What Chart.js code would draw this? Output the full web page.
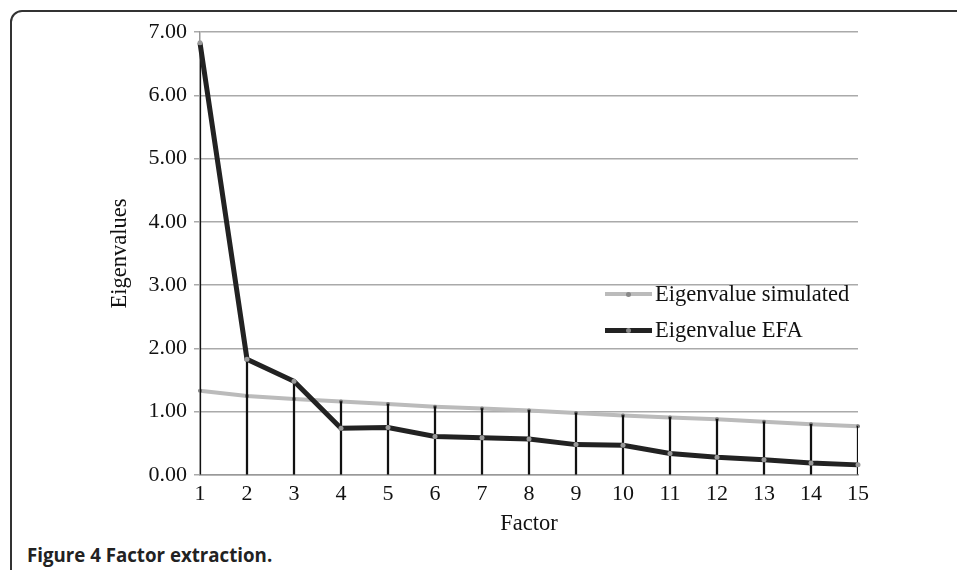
<!DOCTYPE html>
<html>
<head>
<meta charset="utf-8">
<script src="https://cdn.jsdelivr.net/npm/chart.js@4.4.1/dist/chart.umd.min.js"></script>
<style>
  html, body { margin: 0; padding: 0; background: #fff; }
  body { width: 957px; height: 570px; position: relative; overflow: hidden; }
  #frame { position: absolute; left: 10px; top: 10px; width: 1000px; height: 600px;
           border: 2px solid #333; border-radius: 12px; box-sizing: border-box; }
  #wrap { position: absolute; left: 0; top: 0; width: 957px; height: 540px; }
  #caption { position: absolute; left: 27px; top: 542px; font-family: "Open Sans", sans-serif;
             font-weight: bold; font-size: 18.7px; color: #222; }
  .leg { position: absolute; left: 605px; font-family: "Liberation Serif", serif; font-size: 22.5px;
         color: #111; display: flex; align-items: center; }
  .leg .sw { width: 47px; position: relative; margin-right: 3px; }
  .leg .dot { position: absolute; left: 21px; width: 5px; height: 5px; border-radius: 50%; background: #888; }
</style>
</head>
<body>
<div id="frame"></div>
<div id="wrap"><canvas id="screePlot"></canvas></div>
<div class="leg" style="top:281px;">
  <div class="sw" style="height:4px;background:#bbb;"><div class="dot" style="top:-0.5px;"></div></div>
  <span>Eigenvalue simulated</span>
</div>
<div class="leg" style="top:317px;">
  <div class="sw" style="height:5px;background:#222;"><div class="dot" style="top:0px;"></div></div>
  <span>Eigenvalue EFA</span>
</div>
<div id="caption">Figure 4 Factor extraction.</div>
<script>
const factors = ['1', '2', '3', '4', '5', '6', '7', '8', '9', '10', '11', '12', '13', '14', '15'];
const eigenSimulated = [1.33, 1.25, 1.20, 1.16, 1.12, 1.08, 1.05, 1.02, 0.98, 0.94, 0.91, 0.88, 0.84, 0.80, 0.77];
const eigenEFA = [6.83, 1.83, 1.48, 0.74, 0.75, 0.61, 0.59, 0.57, 0.48, 0.47, 0.34, 0.28, 0.24, 0.19, 0.16];
const yTicks = [0, 1, 2, 3, 4, 5, 6, 7];

// drop lines go from the higher of the two series down to zero
const dropLines = eigenEFA.map((v, i) => Math.max(v, eigenSimulated[i]));

const serif = 'Liberation Serif';

const ctx = document.getElementById('screePlot').getContext('2d');
new Chart(ctx, {
  type: 'line',
  data: {
    labels: factors,
    datasets: [
      {
        label: 'Eigenvalue EFA',
        data: eigenEFA,
        borderColor: '#222',
        borderWidth: 5,
        pointRadius: 2.5,
        pointBackgroundColor: '#999',
        pointBorderWidth: 0,
        tension: 0,
        order: 0
      },
      {
        type: 'bar',
        label: 'drop',
        data: dropLines,
        backgroundColor: '#111',
        barThickness: 1.6,
        order: 1
      },
      {
        label: 'Eigenvalue simulated',
        data: eigenSimulated,
        borderColor: '#bbb',
        borderWidth: 4,
        pointRadius: 2,
        pointBackgroundColor: '#777',
        pointBorderWidth: 0,
        tension: 0,
        order: 2
      }
    ]
  },
  options: {
    responsive: true,
    maintainAspectRatio: false,
    animation: false,
    layout: { padding: { left: 107, right: 99, top: 32, bottom: 0 } },
    plugins: {
      legend: { display: false },
      tooltip: { enabled: false }
    },
    scales: {
      x: {
        offset: false,
        grid: { display: false, drawTicks: false },
        border: { display: true, color: '#999', width: 1.5 },
        ticks: { color: '#111', font: { family: serif, size: 22 }, padding: 6, maxRotation: 0, autoSkip: false },
        title: { display: true, text: 'Factor', color: '#111', font: { family: serif, size: 22.5 }, padding: { top: 0, bottom: 2 } },
        afterFit: s => { s.height = 65; }
      },
      y: {
        min: 0,
        max: 7,
        afterBuildTicks: s => { s.ticks = yTicks.map(v => ({ value: v })); },
        grid: { color: '#aaa', lineWidth: 1.5, tickLength: 6 },
        border: { display: true, color: '#999', width: 1.5 },
        ticks: { color: '#111', font: { family: serif, size: 22 }, padding: 7, callback: v => v.toFixed(2) },
        title: { display: true, text: 'Eigenvalues', color: '#111', font: { family: serif, size: 22.5 }, padding: 0 },
        afterFit: s => { s.width = 93; }
      }
    }
  }
});
</script>
</body>
</html>
